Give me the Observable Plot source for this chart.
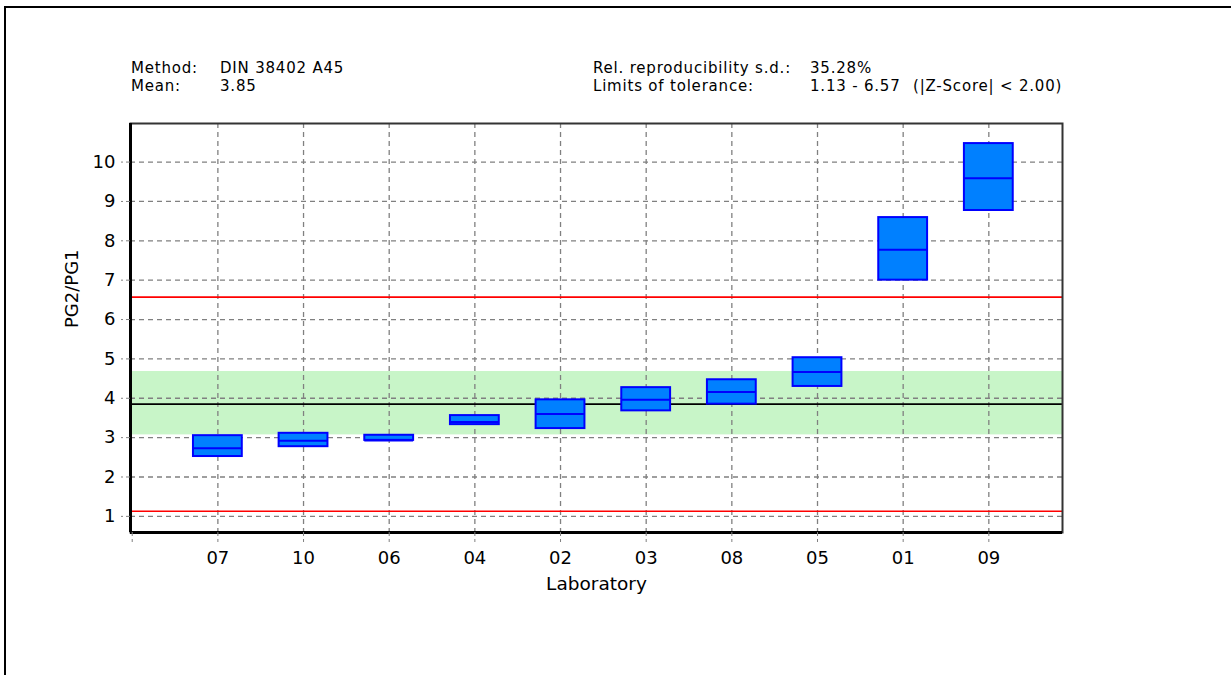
<!DOCTYPE html>
<html>
<head>
<meta charset="utf-8">
<script src="https://cdn.jsdelivr.net/npm/d3@7"></script>
<script src="https://cdn.jsdelivr.net/npm/@observablehq/plot@0.6"></script>
<style>
  html, body { margin: 0; padding: 0; background: #fff; }
  #wrap { position: relative; width: 1231px; height: 675px; overflow: hidden; font-family: "DejaVu Sans", sans-serif; background: #fff; }
  #border { position: absolute; left: 4px; top: 6px; right: -20px; bottom: -20px; border-top: 2px solid #000; border-left: 2px solid #000; pointer-events: none; }
  #chart { position: absolute; left: 0; top: 0; }
  .hdr { position: absolute; font-size: 15px; line-height: 17.5px; letter-spacing: 0.8px; white-space: pre; color: #000; }
</style>
</head>
<body>
<div id="wrap">
  <div id="chart"></div>
  <div id="border"></div>
</div>
<script>
// ---- data ----
const labs = ["07", "10", "06", "04", "02", "03", "08", "05", "01", "09"];
const q1   = [2.52, 2.77, 2.93, 3.33, 3.23, 3.68, 3.85, 4.30, 7.00, 8.77];
const med  = [2.73, 2.92, 2.93, 3.40, 3.60, 3.96, 4.16, 4.67, 7.77, 9.59];
const q3   = [3.05, 3.11, 3.06, 3.56, 3.96, 4.27, 4.47, 5.03, 8.59, 10.47];
const meanValue = 3.85;
const toleranceLimits = [1.13, 6.57];
const greenBand = [3.07, 4.68];
const yTicks = [1, 2, 3, 4, 5, 6, 7, 8, 9, 10];
const headerLeft = [["Method:", "DIN 38402 A45"], ["Mean:", "3.85"]];
const headerRight = [["Rel. reproducibility s.d.:", "35.28%", ""], ["Limits of tolerance:", "1.13 - 6.57", "(|Z-Score| < 2.00)"]];
const xLabel = "Laboratory";
const yLabel = "PG2/PG1";

const data = labs.map((lab, i) => ({pos: i + 1, lab, lo: q1[i], med: med[i], hi: q3[i]}));
const HW = 0.285;
const xDomain = [-0.02, 10.86];
const yDomain = [0.59, 10.98];

// ---- header (text) ----
const wrap = document.getElementById("wrap");
function addText(txt, left, top) {
  const d = document.createElement("div");
  d.className = "hdr";
  d.textContent = txt;
  d.style.left = left + "px";
  d.style.top = top + "px";
  wrap.appendChild(d);
}
const rowTops = [60, 77.5];
headerLeft.forEach((r, i) => { addText(r[0], 131, rowTops[i]); addText(r[1], 220, rowTops[i]); });
headerRight.forEach((r, i) => { addText(r[0], 593, rowTops[i]); addText(r[1], 810, rowTops[i]); if (r[2]) addText(r[2], 913, rowTops[i]); });

// ---- chart ----
const gridStyle = {stroke: "#808080", strokeOpacity: 1, strokeWidth: 1.3, strokeDasharray: "5,4"};
const chart = Plot.plot({
  width: 1231,
  height: 675,
  marginLeft: 130,
  marginRight: 169,
  marginTop: 123,
  marginBottom: 143,
  style: {fontFamily: "DejaVu Sans", fontSize: "18px", background: "transparent", color: "#000"},
  x: {type: "linear", domain: xDomain},
  y: {type: "linear", domain: yDomain},
  marks: [
    Plot.rect([greenBand], {y1: d => d[0], y2: d => d[1], fill: "#c8f5c8"}),
    Plot.gridY({ticks: yTicks, ...gridStyle}),
    Plot.gridX({ticks: d3.range(1, labs.length + 1), ...gridStyle}),
    Plot.ruleY(toleranceLimits, {stroke: "#ff0000", strokeWidth: 1.6}),
    Plot.ruleY([meanValue], {stroke: "#000", strokeWidth: 1.6}),
    Plot.rect(data, {x1: d => d.pos - HW, x2: d => d.pos + HW, y1: "lo", y2: "hi", fill: "#0080ff", stroke: "#0000ff", strokeWidth: 2}),
    Plot.ruleY(data, {y: "med", x1: d => d.pos - HW, x2: d => d.pos + HW, stroke: "#0000ff", strokeWidth: 2}),
    Plot.frame({stroke: "#333", strokeWidth: 2}),
    Plot.ruleX([xDomain[0]], {stroke: "#000", strokeWidth: 3}),
    Plot.ruleY([yDomain[0]], {stroke: "#000", strokeWidth: 3}),
    Plot.axisY({ticks: yTicks, tickSize: 9, tickPadding: 6, stroke: "#808080", fill: "#000", strokeDasharray: "4,3", label: null, fontSize: 18}),
    Plot.axisX({ticks: d3.range(0, labs.length + 1), tickFormat: v => v === 0 ? "" : labs[v - 1], tickSize: 10, tickPadding: 9, stroke: "#808080", fill: "#000", strokeDasharray: "4,3", label: null, fontSize: 18}),
    Plot.text([yLabel], {frameAnchor: "left", dx: -58, rotate: -90, fontSize: 18, fill: "#000"}),
    Plot.text([xLabel], {frameAnchor: "bottom", dy: 57, fontSize: 18.5, fill: "#000"})
  ]
});
document.getElementById("chart").appendChild(chart);
</script>
</body>
</html>
